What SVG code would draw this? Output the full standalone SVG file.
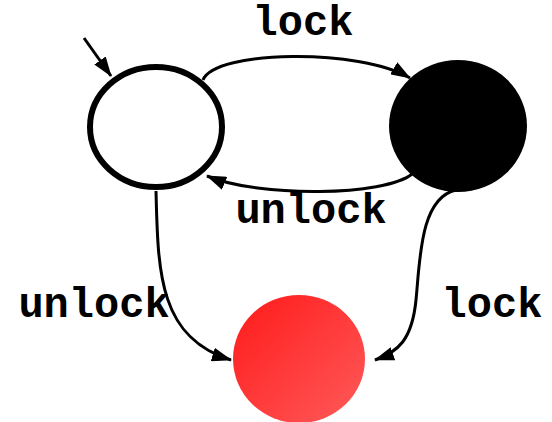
<svg xmlns="http://www.w3.org/2000/svg" width="552" height="422" viewBox="0 0 552 422">
<style>
.lbl{font-family:"Liberation Mono","Courier New",monospace;font-weight:bold;font-size:42px;fill:#000;text-anchor:middle}
.edge{fill:none;stroke:#000;stroke-width:3;marker-end:url(#ah)}
</style>
<defs>
<marker id="ah" viewBox="0 0 20 14" refX="19" refY="7" markerWidth="20" markerHeight="14" markerUnits="userSpaceOnUse" orient="auto">
<path d="M0,0 L20,7 L0,14 Z" fill="#000"/>
</marker>
<linearGradient id="red" x1="0" y1="0" x2="1" y2="1">
<stop offset="0" stop-color="#ff1a1a"/>
<stop offset="1" stop-color="#ff5a5a"/>
</linearGradient>
</defs>
<g id="connectors">
<path class="edge" d="M84,38 L111,76"/>
<path class="edge" d="M203,80 C215,50 360,48 410,78"/>
<path class="edge" d="M412,174 C385,196 260,198 207,176"/>
<path class="edge" d="M156,191 C158,270 158,338 231,360"/>
<path class="edge" d="M456,190 C420,198 420,260 416,300 C412,340 398,352 375,360"/>
</g>
<g id="n_start"><ellipse cx="156" cy="127" rx="66" ry="60" fill="#fff" stroke="#000" stroke-width="6"/></g>
<g id="n_locked"><ellipse cx="458" cy="126" rx="69" ry="66" fill="#000"/></g>
<g id="n_error"><ellipse cx="299" cy="359" rx="66" ry="64" fill="url(#red)"/></g>
<g id="labels">
<text class="lbl" x="303" y="35">lock</text>
<text class="lbl" x="311" y="223">unlock</text>
<text class="lbl" x="94" y="317">unlock</text>
<text class="lbl" x="492" y="317">lock</text>
</g>
</svg>
